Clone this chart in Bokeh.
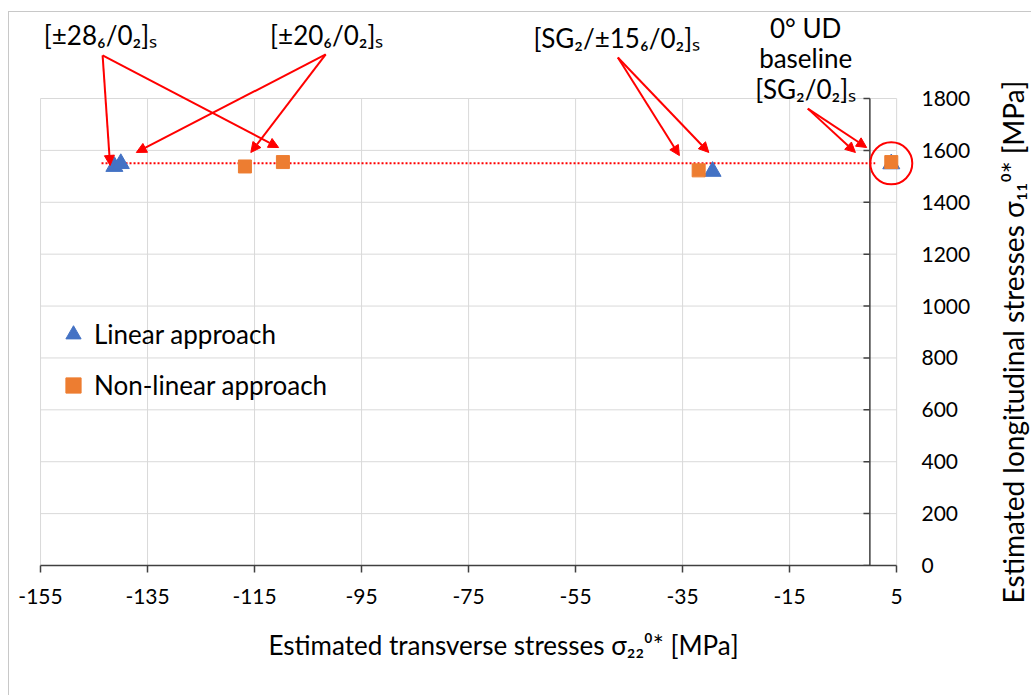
import math
from bokeh.plotting import figure
from bokeh.layouts import row
from bokeh.models import (Label, Arrow, NormalHead, Range1d, Legend, LegendItem,
                          CustomJSTickFormatter, Title)
from bokeh.embed import file_html
from bokeh.resources import INLINE

# --- data -------------------------------------------------------------------
# estimated transverse (sigma22) and longitudinal (sigma11) stresses, MPa
linear_s22 = [-141.2, -140.0, -29.4, 4.0]
linear_s11 = [1538, 1549, 1519, 1548]
nonlinear_s22 = [-116.8, -109.7, -32.0, 4.0]
nonlinear_s11 = [1538, 1555, 1523, 1555]

# dotted reference level of the 0 deg UD baseline
reference_s11 = 1550
reference_span = [-143.6, 1.0]

x_ticks = [-155, -135, -115, -95, -75, -55, -35, -15, 5]
y_ticks = [0, 200, 400, 600, 800, 1000, 1200, 1400, 1600, 1800]

x_title = "Estimated transverse stresses σ₂₂⁰* [MPa]"
y_title = "Estimated longitudinal stresses σ₁₁⁰* [MPa]"

# --- styling ----------------------------------------------------------------
FONT = "Lato"
BLUE = "#4472C4"
ORANGE = "#ED7D31"
RED = "#FF0000"
GRID = "#D9D9D9"
AXIS = "#404040"
FS = "26px"
H = 683
W_MAIN = 970
W_SIDE = 52

x0, x1 = x_ticks[0], x_ticks[-1]
y0, y1 = y_ticks[0], y_ticks[-1]

# the frame is widened/raised so that the layup call-outs above the plot
# area can be drawn in data space; axes are bounded to the real extents
p = figure(width=W_MAIN, height=H,
           x_range=Range1d(-160.8, 8.9),
           y_range=Range1d(0, 2131.5),
           y_axis_location="right",
           output_backend="svg", toolbar_location=None,
           min_border_left=0, min_border_right=W_MAIN - 908,
           min_border_top=0, min_border_bottom=130)
p.outline_line_color = None
p.xgrid.visible = False
p.ygrid.visible = False

# grid limited to the plot area
p.segment(x0=x_ticks, y0=[y0] * len(x_ticks), x1=x_ticks, y1=[y1] * len(x_ticks),
          line_color=GRID, line_width=1)
p.segment(x0=[x0] * len(y_ticks), y0=y_ticks, x1=[x1] * len(y_ticks), y1=y_ticks,
          line_color=GRID, line_width=1)

# horizontal axis
xa = p.xaxis[0]
xa.bounds = (x0, x1)
xa.ticker = x_ticks
xa.formatter = CustomJSTickFormatter(code="return tick.toString()")
xa.axis_line_color = AXIS
xa.axis_line_width = 1.5
xa.major_tick_line_color = AXIS
xa.major_tick_line_width = 1.5
xa.major_tick_out = 7
xa.major_tick_in = 0
xa.minor_tick_line_color = None
xa.major_label_text_font = FONT
xa.major_label_text_font_size = "21px"
xa.major_label_text_color = "black"
xa.major_label_standoff = 16

p.add_layout(Title(text=x_title, align="left", offset=259, standoff=40,
                   text_font=FONT, text_font_size=FS, text_font_style="normal",
                   text_color="black"), "below")

# vertical axis labels on the right
ya = p.yaxis[0]
ya.bounds = (y0, y1)
ya.ticker = y_ticks
ya.axis_line_color = None
ya.major_tick_line_color = None
ya.major_tick_out = 0
ya.major_tick_in = 0
ya.minor_tick_line_color = None
ya.major_label_text_font = FONT
ya.major_label_text_font_size = "21px"
ya.major_label_text_color = "black"
ya.major_label_standoff = 4

# vertical axis line crosses at sigma22 = 0
p.segment(x0=[0], y0=[y0], x1=[0], y1=[y1], line_color=AXIS, line_width=1.5)
p.segment(x0=[0] * len(y_ticks), y0=y_ticks, x1=[-1.2] * len(y_ticks), y1=y_ticks,
          line_color=AXIS, line_width=1.5)

# dotted reference level
p.line(x=reference_span, y=[reference_s11] * 2, line_color=RED, line_width=2,
       line_dash="2 2")

# data
r_lin = p.scatter(linear_s22, linear_s11, marker="triangle", size=17,
                  fill_color=BLUE, line_color=BLUE)
r_non = p.scatter(nonlinear_s22, nonlinear_s11, marker="square", size=13,
                  fill_color=ORANGE, line_color=ORANGE)

# ring around the baseline specimen
p.scatter([linear_s22[-1]], [reference_s11], marker="circle", size=42,
          fill_color=None, line_color=RED, line_width=2)

legend = Legend(items=[LegendItem(label="Linear approach", renderers=[r_lin]),
                       LegendItem(label="Non-linear approach", renderers=[r_non])],
                location=(45, 161), orientation="vertical",
                glyph_width=38, glyph_height=38, label_standoff=2,
                spacing=13, padding=0, margin=0,
                border_line_color=None, background_fill_color=None,
                label_text_font=FONT, label_text_font_size=FS,
                label_text_color="black")
p.add_layout(legend)

# layup call-outs with arrows pointing at their markers
lay_labels = [
    ("[±28₆/0₂]ₛ", -143.8, 2043),
    ("[±20₆/0₂]ₛ", -101.5, 2043),
    ("[SG₂/±15₆/0₂]ₛ", -47.3, 2035),
    ("0° UD", -12.0, 2070),
    ("baseline", -12.0, 1958),
    ("[SG₂/0₂]ₛ", -12.0, 1835),
]
for txt, x, y in lay_labels:
    p.add_layout(Label(x=x, y=y, text=txt, text_align="center",
                       text_baseline="middle", text_font=FONT,
                       text_font_size=FS, text_color="black"))

arrows = [
    (-143.4, 1966, -142.0, 1542),
    (-143.4, 1966, -110.5, 1611),
    (-101.7, 1970, -137.1, 1592),
    (-101.7, 1970, -115.7, 1592),
    (-47.1, 1958, -35.6, 1580),
    (-47.1, 1958, -30.1, 1592),
    (-11.6, 1761, -2.7, 1592),
    (-11.6, 1761, -0.6, 1611),
]
for xs, ys, xe, ye in arrows:
    p.add_layout(Arrow(x_start=xs, y_start=ys, x_end=xe, y_end=ye,
                       line_color=RED, line_width=2,
                       end=NormalHead(size=10, fill_color=RED, line_color=RED)))

# strip on the right carrying the rotated vertical-axis title
side = figure(width=W_SIDE, height=H, x_range=Range1d(0, W_SIDE), y_range=Range1d(0, H),
              x_axis_type=None, y_axis_type=None,
              output_backend="svg", toolbar_location=None,
              min_border_left=0, min_border_right=0,
              min_border_top=0, min_border_bottom=0)
side.grid.visible = False
side.outline_line_color = None

# let the strip's frame span its whole canvas instead of lining up with
# the main plot's frame
if hasattr(side, "frame_align"):
    side.frame_align = False
    title_y = H - 330
else:
    # frame shared with the main plot: 553 px tall, bottom at canvas 553
    title_y = (553 - 318) / 553 * H

side.add_layout(Label(x=33, y=title_y, angle=math.pi / 2, text=y_title,
                      text_align="center", text_baseline="middle",
                      text_font=FONT, text_font_size="28px", text_color="black"))

layout = row(p, side, spacing=0,
             styles={"margin-left": "8px", "margin-top": "11px",
                     "border-left": "1px solid #C8C8C8",
                     "border-top": "1px solid #C8C8C8"})

open("out.html", "w").write(file_html(layout, INLINE))
